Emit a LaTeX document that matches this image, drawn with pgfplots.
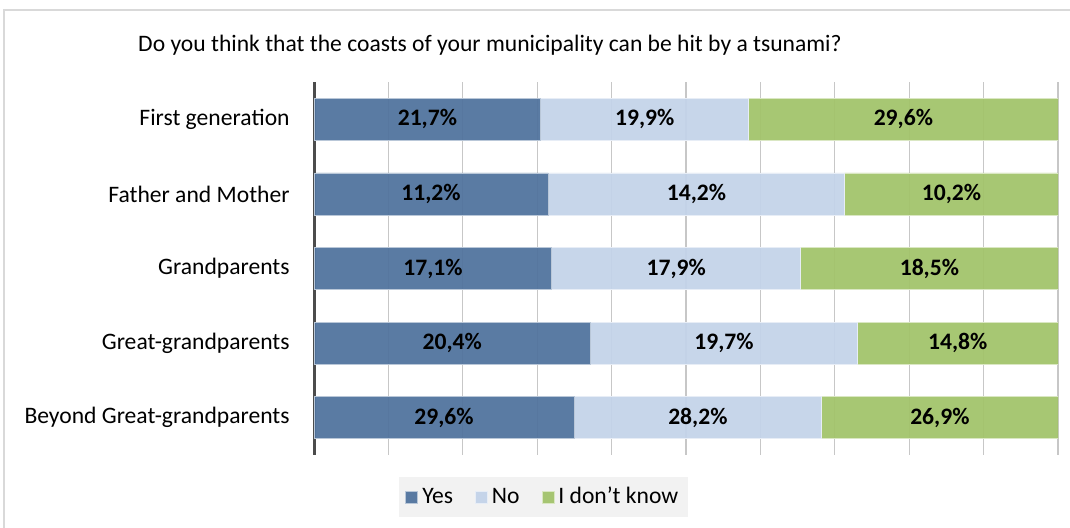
\documentclass[border=0pt]{standalone}
\usepackage{pgfplots}
\pgfplotsset{compat=1.18}
\usepackage{pgfplotstable}
\usepackage{fontspec}
\setmainfont{Carlito}[Ligatures=ResetAll]

\definecolor{cyes}{HTML}{50739D}
\definecolor{cno}{HTML}{C3D3E9}
\definecolor{cidk}{HTML}{A2C36A}
\definecolor{frame}{HTML}{D9D9D9}

\pgfplotstableread{
y yes no idk
0 21.7 19.9 29.6
1 11.2 14.2 10.2
2 17.1 17.9 18.5
3 20.4 19.7 14.8
4 29.6 28.2 26.9
}\data

\pgfplotsset{
  base/.style={
    at={(157pt,-227.5pt)}, anchor=south west,
    width=372pt, height=186.5pt, scale only axis,
    xmin=0, xmax=100, ymin=-0.5, ymax=4.5, y dir=reverse,
  },
}
\newcommand{\tot}{(\thisrow{yes}+\thisrow{no}+\thisrow{idk})}

\begin{document}
\begin{tikzpicture}
\begin{scope}[x=0.5pt,y=-0.5pt]
\path[use as bounding box] (0,0) rectangle (1070,528);
\draw[frame, line width=0.8pt] (4,528) -- (4,10) -- (1070,10);
\node[font=\fontsize{11.8}{14}\selectfont] at (490,45) {Do you think that the coasts of your municipality can be hit by a tsunami?};
\end{scope}

\begin{axis}[base,
  xbar stacked, bar width=21pt,
  axis lines*=left,
  x axis line style={draw=none},
  y axis line style={line width=1.5pt, color=black!70},
  xtick={0,10,...,100}, xticklabels={},
  xmajorgrids, grid style={black!22, line width=0.6pt},
  xtick style={draw=none}, ytick style={draw=none},
  ytick={0,1,2,3,4},
  yticklabels={First genera\kern0pt tion, Father and Mother, Grandparents, Great-grandparents, Beyond Great-grandparents},
  yticklabel style={font=\fontsize{11.8}{14}\selectfont, inner sep=0pt, xshift=-12pt},
  legend columns=-1,
  legend style={at={(0.309,-0.1126)}, anchor=center, fill=black!5, draw=none,
    font=\fontsize{11.8}{14}\selectfont, inner xsep=3pt, inner ysep=3pt,
    /tikz/every even column/.append style={column sep=9pt}},
  legend image code/.code={\fill[#1] (0pt,-3pt) rectangle (6pt,3pt);},
]
\addplot[fill=cyes, draw=white!60!cyes, line width=0.4pt, fill opacity=0.94] table[x expr=\thisrow{yes}/\tot*100, y=y]{\data};
\addplot[fill=cno, draw=white!60!cno, line width=0.4pt, fill opacity=0.94] table[x expr=\thisrow{no}/\tot*100, y=y]{\data};
\addplot[fill=cidk, draw=white!60!cidk, line width=0.4pt, fill opacity=0.94] table[x expr=\thisrow{idk}/\tot*100, y=y]{\data};
\legend{Yes,No,I don\kern0pt\char"27\kern0pt t know}
\end{axis}

\begin{axis}[base, hide axis,
  nodes near coords={\textbf{\pgfmathprintnumber[fixed, fixed zerofill, precision=1, use comma, assume math mode=true]{\pgfplotspointmeta}\%}},
  every node near coord/.style={anchor=center, font=\fontsize{11.8}{14}\selectfont\bfseries, text=black},
]
\addplot[draw=none, mark=none, point meta=\thisrow{yes}] table[x expr=\thisrow{yes}/\tot*50, y=y]{\data};
\addplot[draw=none, mark=none, point meta=\thisrow{no}] table[x expr=(\thisrow{yes}+\thisrow{no}/2)/\tot*100, y=y]{\data};
\addplot[draw=none, mark=none, point meta=\thisrow{idk}] table[x expr=(\thisrow{yes}+\thisrow{no}+\thisrow{idk}/2)/\tot*100, y=y]{\data};
\end{axis}
\end{tikzpicture}
\end{document}
